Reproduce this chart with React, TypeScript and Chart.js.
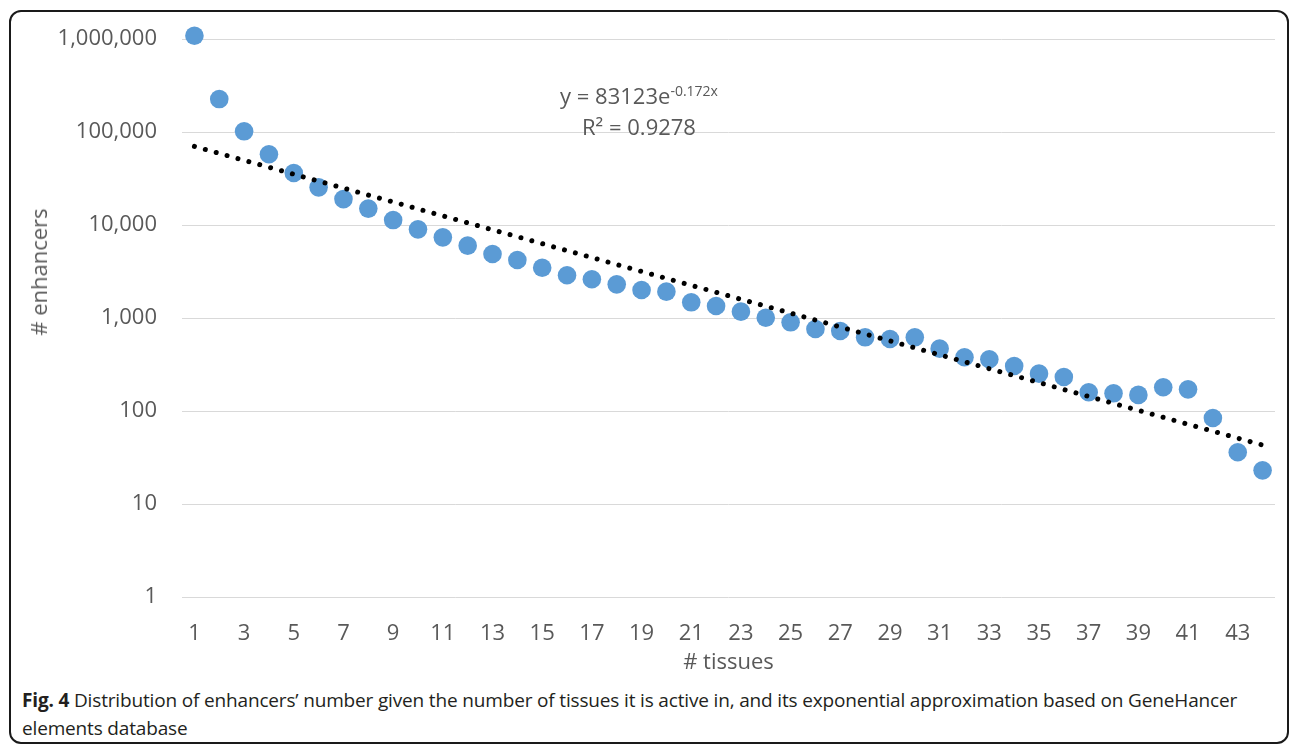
import React, { useEffect, useRef } from "react";
import { Chart, registerables } from "chart.js";

Chart.register(...registerables);

// ---- data ----
const tissues = [
  "1", "2", "3", "4", "5", "6", "7", "8", "9", "10", "11",
  "12", "13", "14", "15", "16", "17", "18", "19", "20", "21", "22",
  "23", "24", "25", "26", "27", "28", "29", "30", "31", "32", "33",
  "34", "35", "36", "37", "38", "39", "40", "41", "42", "43", "44",
];
const enhancers = [
  1085000, 226000, 101700, 57600, 36200, 25400, 19000, 15000, 11300, 8980, 7370,
  6000, 4880, 4200, 3470, 2880, 2610, 2300, 2000, 1920, 1475, 1346,
  1170, 1007, 899, 762, 725, 620, 595, 620, 468, 378, 360,
  305, 252, 232, 159, 155, 149, 180, 171, 84, 36, 23,
];
// exponential trend line (straight on log axis), end points
const trendX = ["1", "44"];
const trendY = [70000, 43];
const yTickValues = [1, 10, 100, 1000, 10000, 100000, 1000000];

const GREY = "#595959";
const FONT = "'Open Sans', sans-serif";

export default function App() {
  const canvasRef = useRef<HTMLCanvasElement | null>(null);

  useEffect(() => {
    if (!canvasRef.current) return;
    const chart = new Chart(canvasRef.current, {
      type: "line",
      data: {
        labels: tissues,
        datasets: [
          {
            label: "trend",
            data: trendX.map((x, i) => ({ x, y: trendY[i] })),
            borderColor: "#000000",
            borderWidth: 5,
            borderDash: [0.001, 11.3],
            borderCapStyle: "round",
            pointRadius: 0,
            fill: false,
            order: 0,
            clip: false,
          },
          {
            label: "enhancers",
            data: enhancers,
            showLine: false,
            pointRadius: 9.3,
            pointHoverRadius: 9.3,
            pointBackgroundColor: "#5B9BD5",
            pointBorderWidth: 0,
            backgroundColor: "#5B9BD5",
            borderColor: "#5B9BD5",
            order: 1,
            clip: false,
          },
        ],
      },
      options: {
        animation: false,
        responsive: true,
        maintainAspectRatio: false,
        events: [],
        layout: { padding: { top: 39, right: 15, left: 0, bottom: 0 } },
        plugins: {
          legend: { display: false },
          tooltip: { enabled: false },
        },
        scales: {
          x: {
            type: "category",
            offset: true,
            grid: { display: false },
            border: { display: false },
            ticks: {
              autoSkip: false,
              maxRotation: 0,
              minRotation: 0,
              padding: 16,
              color: GREY,
              font: { family: FONT, size: 22 },
              callback: (_v: any, idx: number) => (idx % 2 === 0 ? tissues[idx] : ""),
            },
            title: {
              display: true,
              text: "# tissues",
              color: GREY,
              font: { family: FONT, size: 22 },
              padding: 0,
            },
            afterFit: (scale: any) => {
              scale.height = 79;
            },
          },
          y: {
            type: "logarithmic",
            min: 1,
            max: 1000000,
            grid: { color: "#D9D9D9", lineWidth: 1, drawTicks: false },
            border: { display: false },
            ticks: {
              padding: 25,
              color: GREY,
              font: { family: FONT, size: 22 },
              callback: (v: any) => Number(v).toLocaleString("en-US"),
            },
            afterBuildTicks: (scale: any) => {
              scale.ticks = yTickValues.map((v) => ({ value: v }));
            },
            afterFit: (scale: any) => {
              scale.width = 182;
            },
          },
        },
      },
    } as any);
    return () => chart.destroy();
  }, []);

  return (
    <div
      style={{
        position: "absolute",
        left: 0,
        top: 0,
        width: 1290,
        height: 745,
        overflow: "hidden",
        background: "#ffffff",
        fontFamily: FONT,
      }}
    >
      <div
        style={{
          position: "absolute",
          left: 9,
          top: 10,
          width: 1280,
          height: 734,
          boxSizing: "border-box",
          border: "2px solid #1a1a1a",
          borderRadius: 12,
        }}
      />
      <div style={{ position: "absolute", left: 0, top: 0, width: 1290, height: 676 }}>
        <canvas ref={canvasRef} />
      </div>
      <div
        style={{
          position: "absolute",
          left: 38,
          top: 272,
          transform: "translate(-50%, -50%) rotate(-90deg)",
          whiteSpace: "nowrap",
          color: GREY,
          fontSize: 22,
          lineHeight: "26px",
        }}
      >
        # enhancers
      </div>
      <div
        style={{
          position: "absolute",
          left: 539,
          top: 80,
          width: 200,
          textAlign: "center",
          color: GREY,
          fontSize: 22,
          lineHeight: "31px",
          whiteSpace: "nowrap",
        }}
      >
        <div>
          y = 83123e<sup style={{ fontSize: 14, verticalAlign: "8px", lineHeight: 0 }}>-0.172x</sup>
        </div>
        <div>R² = 0.9278</div>
      </div>
      <div
        style={{
          position: "absolute",
          left: 22,
          top: 686,
          width: 1265,
          color: "#231f20",
          fontSize: 19,
          lineHeight: "28px",
          letterSpacing: "-0.16px",
        }}
      >
        <b>Fig. 4</b> Distribution of enhancers’ number given the number of tissues it is active in, and its exponential approximation based on GeneHancer
        <br />
        elements database
      </div>
    </div>
  );
}
